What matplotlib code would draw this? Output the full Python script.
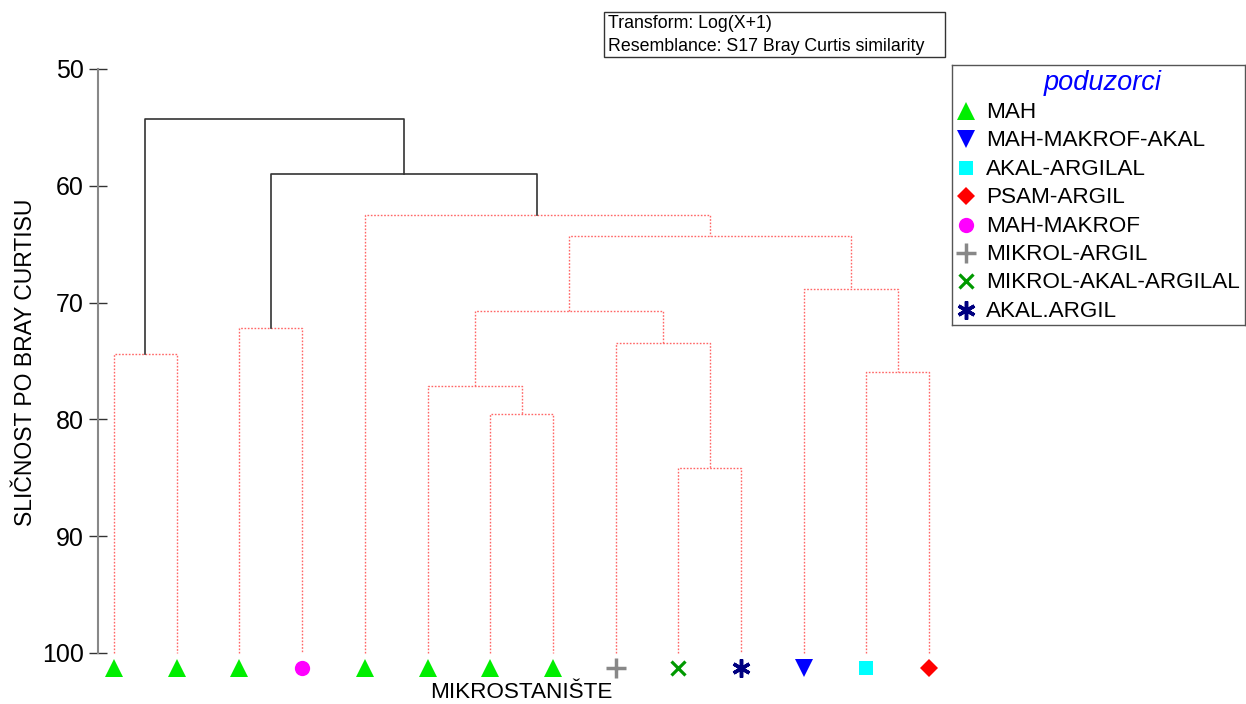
import matplotlib.pyplot as plt
from matplotlib.patches import Rectangle

plt.rcParams["font.family"] = ["Liberation Sans", "DejaVu Sans"]

# leaves, left to right
leaf_groups = ["MAH", "MAH", "MAH", "MAH-MAKROF", "MAH", "MAH", "MAH", "MAH",
               "MIKROL-ARGIL", "MIKROL-AKAL-ARGILAL", "AKAL.ARGIL",
               "MAH-MAKROF-AKAL", "AKAL-ARGILAL", "PSAM-ARGIL"]

# merges: child a, child b, similarity, significant (SIMPROF)
merge_a = [0, 2, 6, 5, 9, 8, 17, 12, 11, 20, 4, 15, 14]
merge_b = [1, 3, 7, 16, 10, 18, 19, 13, 21, 22, 23, 24, 25]
merge_sim = [74.4, 72.2, 79.5, 77.1, 84.2, 73.5, 70.7, 75.9, 68.8, 64.3, 62.5, 59.0, 54.3]
merge_sig = [False] * 11 + [True, True]

legend_groups = ["MAH", "MAH-MAKROF-AKAL", "AKAL-ARGILAL", "PSAM-ARGIL",
                 "MAH-MAKROF", "MIKROL-ARGIL", "MIKROL-AKAL-ARGILAL", "AKAL.ARGIL"]
group_style = {
    "MAH": dict(marker="^", color="#00ee00", ms=13, mew=0),
    "MAH-MAKROF-AKAL": dict(marker="v", color="#0000ff", ms=13, mew=0),
    "AKAL-ARGILAL": dict(marker="s", color="#00ffff", ms=10.5, mew=0),
    "PSAM-ARGIL": dict(marker="D", color="#ff0000", ms=9, mew=0),
    "MAH-MAKROF": dict(marker="o", color="#ff00ff", ms=11, mew=0),
    "MIKROL-ARGIL": dict(marker="+", color="#888888", ms=14, mew=2.5),
    "MIKROL-AKAL-ARGILAL": dict(marker="x", color="#009900", ms=10, mew=2.3),
    "AKAL.ARGIL": dict(marker=(6, 2, 0), color="#000080", ms=13, mew=2.5),
}

W, H = 1246, 704
fig = plt.figure(figsize=(W / 100, H / 100), dpi=100)

px_per_unit = (653 - 69) / 50.0
leaf_dx = 62.7
ax_left, ax_right, ax_top, ax_bot = 98, 945, 60, 680
ax = fig.add_axes([ax_left / W, (H - ax_bot) / H, (ax_right - ax_left) / W, (ax_bot - ax_top) / H])
ax.set_xlim((ax_left - 114) / leaf_dx, (ax_right - 114) / leaf_dx)
ax.set_ylim(100 + (ax_bot - 653) / px_per_unit, 50 - (69 - ax_top) / px_per_unit)

# dendrogram
n = len(leaf_groups)
xpos = {i: float(i) for i in range(n)}
ypos = {i: 100.0 for i in range(n)}
for k, (a, b, h, sig) in enumerate(zip(merge_a, merge_b, merge_sim, merge_sig)):
    xa, xb = xpos[a], xpos[b]
    if sig:
        style = dict(color="#333333", lw=1.2, ls="-")
    else:
        style = dict(color="#ff6666", lw=1.0, ls=(0, (1.2, 1.2)))
    ax.plot([xa, xa, xb, xb], [ypos[a], h, h, ypos[b]], **style)
    xpos[n + k] = (xa + xb) / 2
    ypos[n + k] = h

marker_y = 100 + 15 / px_per_unit
for i, g in enumerate(leaf_groups):
    st = group_style[g]
    ax.plot(i, marker_y, linestyle="none", marker=st["marker"], color=st["color"],
            ms=st["ms"], mew=st["mew"], clip_on=False)

for s in ["top", "right", "bottom"]:
    ax.spines[s].set_visible(False)
ax.spines["left"].set_bounds(50, 100)
ax.spines["left"].set_color("#888888")
ax.spines["left"].set_linewidth(1.5)
ax.set_yticks([50, 60, 70, 80, 90, 100])
ax.tick_params(axis="y", direction="inout", length=13, width=1, color="#333333",
               labelsize=18, pad=3.5)
ax.set_xticks([])

fig.text(26 / W, 1 - 362 / H, "SLIČNOST PO BRAY CURTISU", rotation=90,
         ha="center", va="center", fontsize=16.5)
fig.text(521 / W, 1 - 692 / H, "MIKROSTANIŠTE", ha="center", va="center", fontsize=16.2)

# info box
fig.patches.append(Rectangle((604 / W, 1 - 57 / H), 341 / W, 45 / H, transform=fig.transFigure,
                             fill=False, edgecolor="#333333", lw=1))
fig.text(608 / W, 1 - 23.5 / H, "Transform: Log(X+1)", va="center", fontsize=12.8)
fig.text(608 / W, 1 - 46.5 / H, "Resemblance: S17 Bray Curtis similarity", va="center", fontsize=12.8)

# legend
lx, ly, lw, lh = 952, 65, 293, 260
lax = fig.add_axes([lx / W, 1 - (ly + lh) / H, lw / W, lh / H])
lax.set_xlim(0, lw)
lax.set_ylim(lh, 0)
lax.set_xticks([])
lax.set_yticks([])
for s in lax.spines.values():
    s.set_color("#555555")
    s.set_linewidth(1)
lax.text(151, 18, "poduzorci", color="#0000ff", style="italic", fontsize=19.5,
         ha="center", va="center")
for j, g in enumerate(legend_groups):
    st = group_style[g]
    yy = 46 + j * 28.4
    lax.plot(14, yy, linestyle="none", marker=st["marker"], color=st["color"],
             ms=st["ms"], mew=st["mew"])
    lax.text(34, yy + 1.5, g, fontsize=16.2, va="center", ha="left")

fig.savefig("out.png", dpi=100)
